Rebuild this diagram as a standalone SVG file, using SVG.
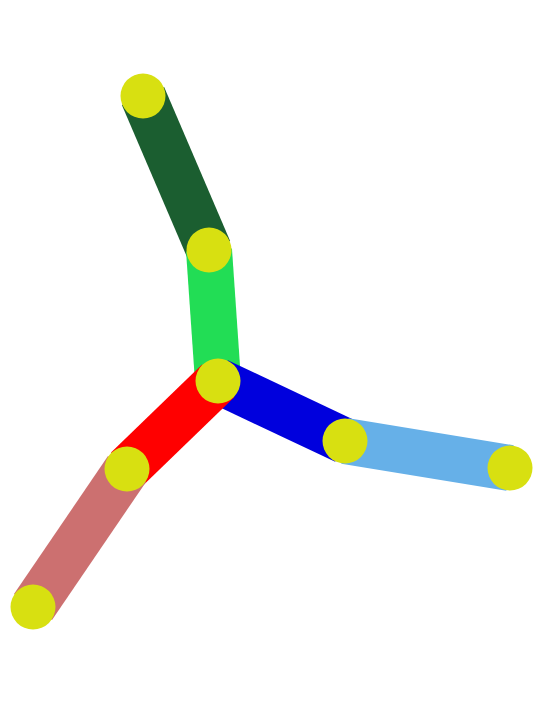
<svg xmlns="http://www.w3.org/2000/svg" width="540" height="724" viewBox="0 0 540 724">
<style>
.seg{stroke-width:46;stroke-linecap:butt;fill:none}
.j{fill:#d8e011}
</style>
<rect width="540" height="724" fill="#ffffff"/>
<g id="segments">
<line class="seg" x1="143" y1="96" x2="209" y2="250" stroke="#1b5e30"/>
<line class="seg" x1="209" y1="250" x2="218" y2="381" stroke="#22dd55"/>
<line class="seg" x1="218" y1="381" x2="345" y2="441" stroke="#0000dd"/>
<line class="seg" x1="345" y1="441" x2="510" y2="468" stroke="#66b0e8"/>
<line class="seg" x1="218" y1="381" x2="127" y2="469" stroke="#ff0000"/>
<line class="seg" x1="127" y1="469" x2="33" y2="607" stroke="#cc7070"/>
</g>
<g id="joints">
<circle class="j" cx="143" cy="96" r="22.5"/>
<circle class="j" cx="209" cy="250" r="22.5"/>
<circle class="j" cx="218" cy="381" r="22.5"/>
<circle class="j" cx="345" cy="441" r="22.5"/>
<circle class="j" cx="510" cy="468" r="22.5"/>
<circle class="j" cx="127" cy="469" r="22.5"/>
<circle class="j" cx="33" cy="607" r="22.5"/>
</g>
</svg>
